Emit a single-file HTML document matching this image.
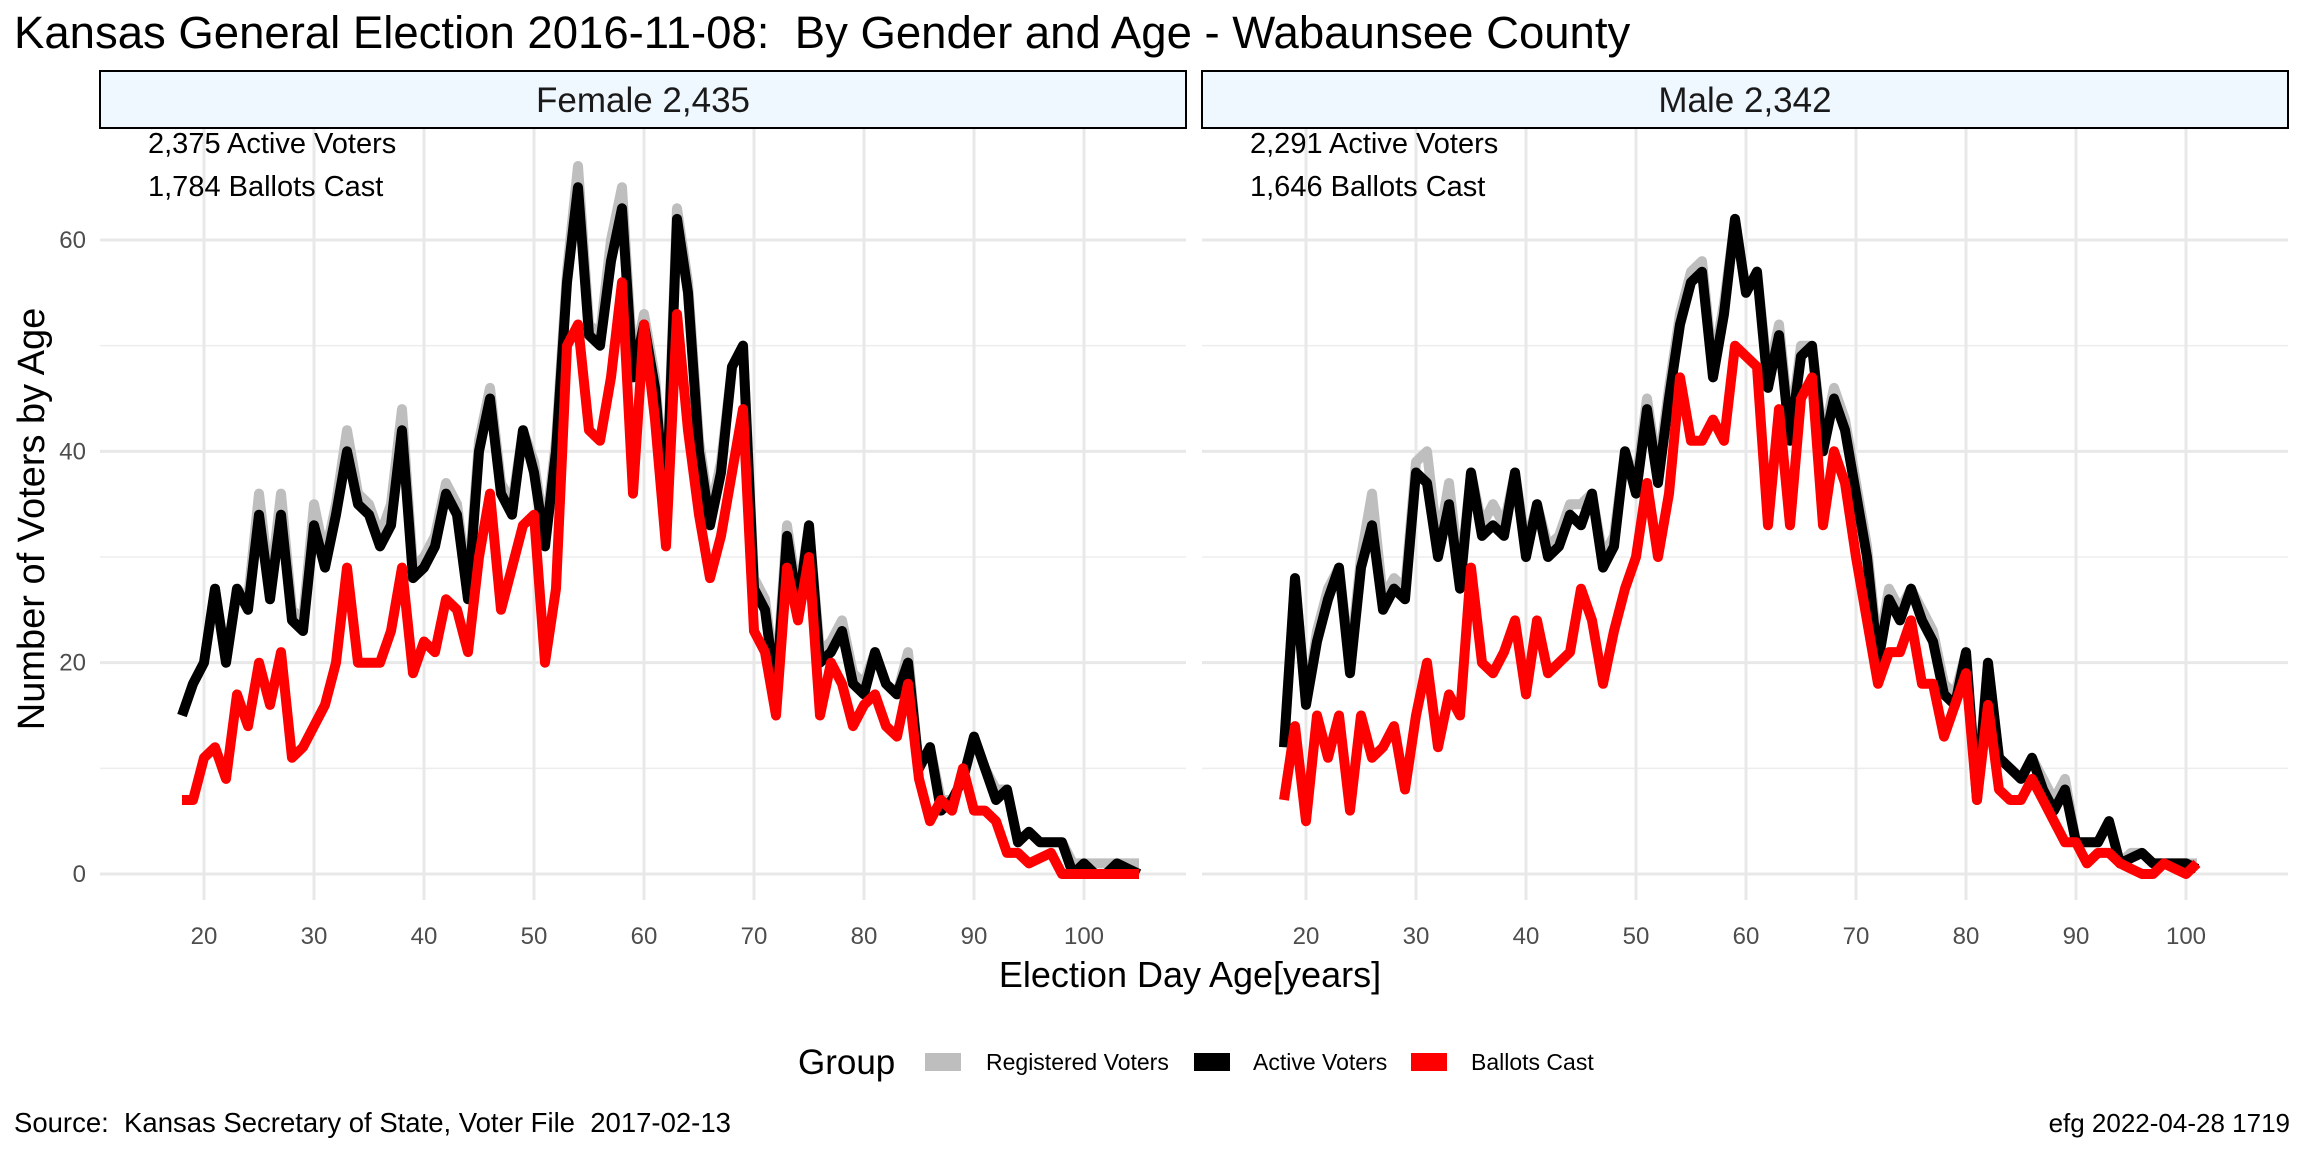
<!DOCTYPE html>
<html><head><meta charset="utf-8"><style>
html,body{margin:0;padding:0;background:#fff;}
svg text{font-family:"Liberation Sans",Arial,sans-serif;white-space:pre;}
</style></head><body>
<svg id="chart" width="2304" height="1152" viewBox="0 0 2304 1152" xmlns="http://www.w3.org/2000/svg">
<text x="14" y="48" font-size="45.5" fill="#000" xml:space="preserve">Kansas General Election 2016-11-08:  By Gender and Age - Wabaunsee County</text>
<g id="panels"></g>
<text transform="translate(44,519) rotate(-90)" text-anchor="middle" font-size="38" fill="#000">Number of Voters by Age</text>
<text x="1190" y="987" text-anchor="middle" font-size="36" fill="#000">Election Day Age[years]</text>
<g>
<text x="798" y="1074" font-size="35" fill="#000">Group</text>
<rect x="925" y="1053" width="36" height="18" fill="#bebebe"/>
<text x="986" y="1070" font-size="23" fill="#000">Registered Voters</text>
<rect x="1194" y="1053" width="36" height="18" fill="#000"/>
<text x="1253" y="1070" font-size="23" fill="#000">Active Voters</text>
<rect x="1411" y="1053" width="36" height="18" fill="#ff0000"/>
<text x="1471" y="1070" font-size="23" fill="#000">Ballots Cast</text>
</g>
<text x="14" y="1132" font-size="27.5" fill="#000" xml:space="preserve">Source:  Kansas Secretary of State, Voter File  2017-02-13</text>
<text x="2290" y="1132" text-anchor="end" font-size="26" fill="#000">efg 2022-04-28 1719</text>
</svg>
<script>
const yTicks = [0, 20, 40, 60];
const yMinor = [10, 30, 50];
const xTicks = [20, 30, 40, 50, 60, 70, 80, 90, 100];
const panelTitles = ["Female 2,435", "Male 2,342"];
const activeLabels = ["2,375 Active Voters", "2,291 Active Voters"];
const ballotLabels = ["1,784 Ballots Cast", "1,646 Ballots Cast"];
const femaleStartAge = 18;
const femaleActive = [15,18,20,27,20,27,25,34,26,34,24,23,33,29,34,40,35,34,31,33,42,28,29,31,36,34,26,40,45,36,34,42,38,31,40,56,65,51,50,58,63,47,52,46,34,62,55,40,33,38,48,50,27,25,17,32,25,33,20,21,23,18,17,21,18,17,20,10,12,6,7,9,13,10,7,8,3,4,3,3,3,0,1,0,0,1,0.5,0];
const femaleRegistered = [15,18,20,27,20,27,26,36,27,36,25,24,35,30,35,42,36,35,32,35,44,29,30,32,37,35,27,41,46,37,35,42,39,32,41,57,67,52,51,60,65,48,53,47,35,63,56,41,34,39,48,50,28,26,18,33,26,33,21,22,24,19,18,21,18,17,21,10,12,7,7,9,13,10,8,8,3,4,3,3,3,1,1,1,1,1,1,1];
const femaleBallots = [7,7,11,12,9,17,14,20,16,21,11,12,14,16,20,29,20,20,20,23,29,19,22,21,26,25,21,30,36,25,29,33,34,20,27,50,52,42,41,47,56,36,52,43,31,53,42,34,28,32,38,44,23,21,15,29,24,30,15,20,18,14,16,17,14,13,18,9,5,7,6,10,6,6,5,2,2,1,1.5,2,0,0,0,0,0,0,0,0];
const maleStartAge = 18;
const maleActive = [12,28,16,22,26,29,19,29,33,25,27,26,38,37,30,35,27,38,32,33,32,38,30,35,30,31,34,33,36,29,31,40,36,44,37,45,52,56,57,47,53,62,55,57,46,51,41,49,50,40,45,42,36,30,20,26,24,27,24,22,17,16,21,7,20,11,10,9,11,8,6,8,3,3,3,5,1,1.5,2,1,1,1,1,0.5];
const maleRegistered = [12,28,16,23,27,29,20,30,36,26,28,27,39,40,31,37,28,38,33,35,33,38,31,35,31,32,35,35,36,30,32,40,37,45,38,46,53,57,58,48,54,62,55,57,47,52,42,50,50,41,46,43,37,31,21,27,25,27,25,23,18,17,21,8,20,11,10,9,11,9,7,9,3,3,3,5,1,2,2,1,1,1,1,1];
const maleBallots = [7,14,5,15,11,15,6,15,11,12,14,8,15,20,12,17,15,29,20,19,21,24,17,24,19,20,21,27,24,18,23,27,30,37,30,36,47,41,41,43,41,50,49,48,33,44,33,45,47,33,40,37,30,24,18,21,21,24,18,18,13,16,19,7,16,8,7,7,9,7,5,3,3,1,2,2,1,0.5,0,0,1,0.5,0,1];

const NS = "http://www.w3.org/2000/svg";
const panelsG = document.getElementById("panels");
const plotTop = 128, plotBottom = 900;
function yScale(v){ return 874 - v * (634/60); }
function makeX(x20){ return a => x20 + 11 * (a - 20); }
function mk(tag, attrs, parent){ const e = document.createElementNS(NS, tag); for (const k in attrs) e.setAttribute(k, attrs[k]); parent.appendChild(e); return e; }

const panelDefs = [
  {left:100, right:1186, x20:204, start:femaleStartAge, reg:femaleRegistered, act:femaleActive, bal:femaleBallots, key:"female"},
  {left:1202, right:2288, x20:1306, start:maleStartAge, reg:maleRegistered, act:maleActive, bal:maleBallots, key:"male"}
];

panelDefs.forEach((p, i) => {
  const xs = makeX(p.x20);
  const g = mk("g", {}, panelsG);
  
  
  yMinor.forEach(v => {
    const l = mk("line", {x1:p.left, x2:p.right, y1:yScale(v), y2:yScale(v), stroke:"#ededed", "stroke-width":1.5}, g);
    
    
  });
  yTicks.forEach(v => {
    const l = mk("line", {x1:p.left, x2:p.right, y1:yScale(v), y2:yScale(v), stroke:"#e8e8e8", "stroke-width":3}, g);
    
    
  });
  xTicks.forEach(v => {
    const l = mk("line", {x1:xs(v), x2:xs(v), y1:plotTop, y2:plotBottom, stroke:"#e8e8e8", "stroke-width":3}, g);
    
    
    const t = mk("text", {x:xs(v), y:944, "text-anchor":"middle", "font-size":24, fill:"#4d4d4d"}, g);
    
    
    t.textContent = v;
  });
  if (i === 0) {
    yTicks.forEach(v => {
      const t = mk("text", {x:86, y:yScale(v)+8, "text-anchor":"end", "font-size":24, fill:"#4d4d4d"}, g);
      
      
      t.textContent = v;
    });
  }
  const strip = mk("rect", {x:p.left, y:71, width:p.right-p.left, height:57, fill:"#f0f8ff", stroke:"#000", "stroke-width":2}, g);
  
  
  const st = mk("text", {x:(p.left+p.right)/2, y:112, "text-anchor":"middle", "font-size":35, fill:"#1a1a1a"}, g);
  
  
  st.textContent = panelTitles[i];
  const a1 = mk("text", {x:p.left+48, y:153, "font-size":29, fill:"#000"}, g);
  
  
  a1.textContent = activeLabels[i];
  const a2 = mk("text", {x:p.left+48, y:196, "font-size":29, fill:"#000"}, g);
  
  
  a2.textContent = ballotLabels[i];
  const series = [[p.reg, "#bebebe", "registered"], [p.act, "#000000", "active"], [p.bal, "#ff0000", "ballots"]];
  series.forEach(s => {
    const pts = s[0].map((v, k) => xs(p.start + k).toFixed(1) + "," + yScale(v).toFixed(1)).join(" ");
    const pl = mk("polyline", {points:pts, fill:"none", stroke:s[1], "stroke-width":10, "stroke-linejoin":"round", "stroke-linecap":"butt"}, g);
    
    
  });
});
</script>
</body></html>
